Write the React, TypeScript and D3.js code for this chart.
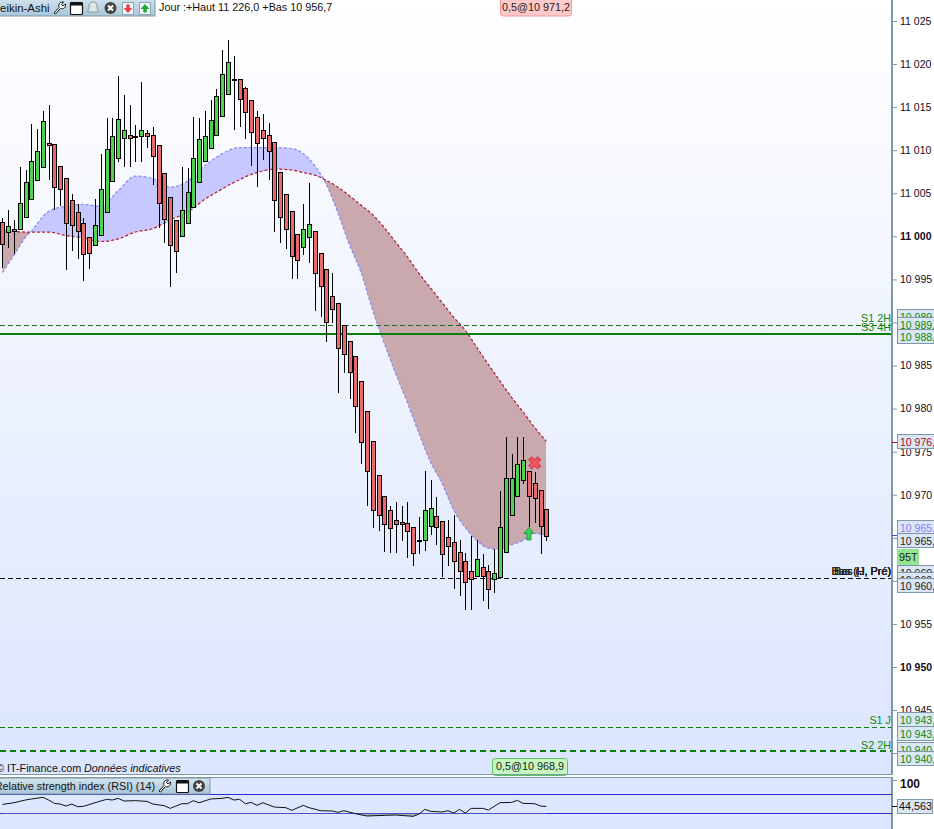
import React, { useEffect, useRef } from 'react';
import * as d3 from 'd3';

// candle values, index = bar number
const opens = [11001.7,11000.5,11000.8,11000.8,11002.3,11004.3,11006.5,11008.1,11010.8,11010.7,11008.2,11006.8,11004.2,11002.8,11001.6,10999.9,10999.0,11000.1,11002.8,11006.4,11009.1,11011.4,11011.8,11011.6,11011.6,11012.0,11011.8,11010.6,11007.3,11004.6,11001.9,11000.0,11001.6,11003.4,11006.3,11008.7,11010.2,11011.8,11014.0,11016.5,11018.3,11018.3,11017.2,11015.8,11013.9,11012.3,11011.8,11010.9,11007.5,11004.9,11002.9,11000.3,10998.8,10999.9,11000.6,10998.1,10996.2,10993.1,10992.3,10989.7,10987.9,10986.1,10983.2,10979.7,10976.2,10972.3,10969.9,10968.2,10967.1,10966.8,10966.7,10966.2,10964.7,10964.7,10966.4,10967.5,10966.9,10965.1,10964.5,10963.4,10962.3,10961.1,10960.6,10961.6,10961.1,10960.2,10960.5,10963.4,10967.6,10969.8,10971.7,10972.8,10971.4,10970.5,10968.4];
const closes = [10999.1,11001.2,11000.6,11003.9,11006.3,11008.7,11009.9,11013.4,11010.6,11005.7,11005.5,11001.6,11001.3,11000.6,10998.0,10998.1,11001.3,11005.5,11010.1,11011.6,11013.6,11012.4,11011.4,11011.5,11012.4,11011.7,11009.3,11003.9,11002.0,10999.0,10998.3,11003.1,11005.2,11009.1,11011.3,11011.6,11013.5,11016.3,11018.9,11020.2,11018.2,11015.9,11014.4,11012.1,11010.8,11011.4,11009.9,11004.2,11002.2,11000.9,10997.7,10997.3,11000.8,11001.4,10995.7,10994.2,10990.0,10991.6,10987.0,10986.3,10984.2,10980.3,10976.1,10972.7,10968.2,10967.7,10966.6,10966.1,10966.6,10966.6,10965.8,10963.2,10964.6,10968.2,10968.5,10966.3,10963.1,10964.0,10962.3,10961.2,10959.9,10960.2,10962.5,10960.6,10959.1,10960.9,10966.3,10971.9,10971.9,10973.6,10974.0,10969.9,10969.6,10966.4,10965.2];
const highs = [11002.1,11003.1,11001.9,11008.1,11007.7,11013.0,11012.5,11014.6,11015.3,11010.7,11008.2,11006.8,11004.9,11003.8,11002.1,10999.9,11004.3,11009.6,11013.7,11013.7,11018.6,11016.4,11015.3,11012.9,11017.9,11012.4,11012.7,11010.6,11007.3,11004.6,11001.9,11008.1,11007.9,11013.8,11013.7,11014.6,11015.8,11017.1,11021.6,11022.8,11020.9,11018.3,11017.3,11015.8,11014.5,11014.2,11013.2,11010.9,11007.5,11004.9,11002.9,11000.3,11003.8,11006.2,11000.6,10998.1,10996.2,10995.8,10992.3,10989.7,10987.9,10986.1,10983.2,10979.7,10976.2,10972.3,10969.9,10968.7,10969.1,10968.7,10969.1,10966.2,10967.4,10972.8,10971.7,10969.7,10966.9,10967.1,10967.7,10964.8,10963.2,10965.2,10964.7,10963.1,10961.8,10963.7,10970.4,10976.7,10974.7,10976.7,10976.7,10972.8,10972.6,10970.5,10968.4];
const lows = [10996.3,10998.7,10998.0,11000.7,11002.2,11004.2,11006.4,11008.0,11006.5,11003.0,11003.5,10996.1,10998.3,10997.4,10994.8,10996.2,10999.0,11000.1,11002.8,11006.4,11008.6,11008.0,11008.0,11008.6,11008.6,11010.3,11006.0,11001.0,10999.2,10994.1,10995.7,10999.9,11001.4,11003.4,11006.3,11008.7,11010.1,11011.8,11014.0,11016.5,11012.4,11012.7,11011.3,11008.2,11005.7,11008.9,11006.5,11000.5,10999.2,10998.5,10995.0,10995.0,10997.8,10996.9,10991.3,10990.6,10987.7,10989.9,10981.8,10984.1,10981.1,10977.2,10973.6,10968.7,10966.1,10965.8,10963.4,10963.2,10963.2,10964.6,10962.7,10961.7,10963.1,10963.5,10965.3,10964.2,10960.5,10961.7,10959.1,10958.2,10956.6,10956.6,10960.6,10957.7,10956.7,10958.6,10960.5,10963.4,10967.6,10969.8,10971.3,10966.2,10966.7,10963.1,10964.6];

// the two shaded band lines, read at these bars
const bandBars = [0,2,4,5,8,11,14,17,20,23,26,29,32,35,38,41,44,47,50,52,54,56,58,60,62,64,66,68,70,72,74,76,78,80,82,84,86,88,90,92,94];
const bandBlue = [10995.8,10997.8,10999.9,11000.6,11002.9,11003.5,11003.7,11003.5,11005.3,11007.0,11006.7,11005.7,11006.4,11008.2,11009.6,11010.3,11010.3,11010.3,11010.2,11009.6,11008.2,11006.0,11002.7,10999.0,10995.8,10991.4,10987.6,10984.0,10980.7,10977.1,10973.8,10971.3,10968.2,10966.2,10964.7,10963.8,10963.7,10964.2,10964.7,10965.5,10965.3];
const bandRed = [11000.9,11000.6,11000.5,11000.5,11000.5,11000.1,10999.8,10999.4,10999.7,11000.5,11000.9,11001.9,11002.8,11004.3,11005.5,11006.6,11007.4,11007.8,11007.7,11007.4,11007.1,11006.5,11005.7,11004.7,11003.6,11002.5,11001.0,10999.3,10997.6,10995.7,10994.0,10992.3,10990.6,10989.1,10987.1,10985.1,10983.2,10981.3,10979.6,10977.8,10976.2];

// RSI (14)
const rsiBars = [0,2,4,5,7,8,9,10,11,12,13,14,16,18,19,20,21,23,25,26,28,29,31,32,33,34,36,38,39,40,41,42,43,44,45,47,49,50,52,53,55,57,58,59,61,63,66,68,71,72,73,74,76,77,78,79,80,81,83,84,86,88,89,90,92,93,94];
const rsiValues = [49.0,52.5,58.2,60.3,63.8,58.2,51.1,49.7,45.5,49.7,44.1,44.8,52.5,59.6,58.2,61.7,56.1,56.8,55.3,49.7,46.2,40.6,50.4,50.4,56.8,52.5,60.3,61.7,63.8,58.2,59.6,50.4,53.2,46.9,52.5,43.4,42.0,36.4,46.9,42.0,35.7,35.0,32.2,35.7,29.4,24.5,25.9,26.6,23.8,28.7,38.5,34.3,32.9,35.7,30.8,38.5,30.8,40.6,40.6,37.1,52.5,53.2,57.5,51.1,50.4,45.5,44.6];

const priceTicks = [11025,11020,11015,11010,11005,11000,10995,10990,10985,10980,10975,10970,10965,10960,10955,10950,10945,10940];
const boldTicks = [11000, 10950];

// horizontal levels
const levelLabels = ['S1 2H', 'S3 4H', 'S1 J', 'S2 2H'];
const levelPrices = [10989.65, 10988.7, 10943.0, 10940.2];
const lowPrevPrice = 10960.3;
const lowPrevLabels = ['Bas (J, Pré)', 'Bas (H, Pré)', 'Bas (J, Pré)', 'Bas (H, Pré)'];

// axis tags, painted in this order
const tagTexts = ['10 989,9','10 989,7','10 988,7','10 976,2','10 965,3','10 965,2','10 960,9','10 960,3','10 960,1','10 943,8','10 943,0','10 940,4','10 940,2'];
const tagPrices = [10990.6,10989.7,10988.3,10976.1,10966.1,10964.6,10960.9,10960.1,10959.4,10943.8,10942.2,10940.4,10939.3];
const tagColors = ['#0a8a0a','#0a8a0a','#0a8a0a','#b01020','#8a7cff','#222','#222','#222','#222','#0a8a0a','#0a8a0a','#0a8a0a','#0a8a0a'];

const fmtPrice = d3.formatLocale({ decimal: ',', thousands: ' ', grouping: [3], currency: ['', ''] }).format(',d');
const FONT = '"Liberation Sans", Arial, sans-serif';
const FS = 10.8;
const AXIS_FS = 10.5;

const App = () => {
  const svgRef = useRef<SVGSVGElement | null>(null);

  useEffect(() => {
    const width = 934, height = 829, axisX = 892;
    const svg = d3.select(svgRef.current);
    svg.selectAll('*').remove();
    d3.select(document.body).style('margin', '0').style('overflow', 'hidden');

    const x = d3.scaleLinear().domain([0, 94]).range([2.4, 546.3]);
    const y = d3.scaleLinear().domain([10950, 11025]).range([667, 21]);
    const yRsi = d3.scaleLinear().domain([30, 70]).range([813.4, 794.4]);
    const px = (i: number) => Math.round(x(i));

    const defs = svg.append('defs');
    const grad = defs.append('linearGradient').attr('id', 'bg').attr('x1', 0).attr('x2', 0).attr('y1', 0).attr('y2', 1);
    grad.append('stop').attr('offset', '0').attr('stop-color', '#ffffff');
    grad.append('stop').attr('offset', '1').attr('stop-color', '#dbe5fe');
    const tabGrad = defs.append('linearGradient').attr('id', 'tab').attr('x1', 0).attr('x2', 0).attr('y1', 0).attr('y2', 1);
    tabGrad.append('stop').attr('offset', '0').attr('stop-color', '#d3e4ee');
    tabGrad.append('stop').attr('offset', '1').attr('stop-color', '#a9c6d8');

    svg.append('rect').attr('width', width).attr('height', height).attr('fill', '#ffffff');
    svg.append('rect').attr('width', axisX).attr('height', 775).attr('fill', 'url(#bg)');
    svg.append('rect').attr('y', 778).attr('width', axisX).attr('height', 51).attr('fill', '#dde7ff');

    // band
    const idx = d3.range(bandBars.length);
    const redLine = d3.line<number>().x(i => x(bandBars[i])).y(i => y(bandRed[i])).curve(d3.curveMonotoneX);
    const blueLine = d3.line<number>().x(i => x(bandBars[i])).y(i => y(bandBlue[i])).curve(d3.curveMonotoneX);
    const between = d3.area<number>().x(i => x(bandBars[i])).y0(i => y(bandRed[i])).y1(i => y(bandBlue[i])).curve(d3.curveMonotoneX);
    const aboveRed = d3.area<number>().x(i => x(bandBars[i])).y0(0).y1(i => y(bandRed[i])).curve(d3.curveMonotoneX);
    const belowRed = d3.area<number>().x(i => x(bandBars[i])).y0(775).y1(i => y(bandRed[i])).curve(d3.curveMonotoneX);
    defs.append('clipPath').attr('id', 'aboveRed').append('path').attr('d', aboveRed(idx));
    defs.append('clipPath').attr('id', 'belowRed').append('path').attr('d', belowRed(idx));

    const band = svg.append('g');
    band.append('path').attr('d', between(idx)).attr('fill', '#c6c8ff').attr('clip-path', 'url(#aboveRed)');
    band.append('path').attr('d', between(idx)).attr('fill', '#c9a9ae').attr('clip-path', 'url(#belowRed)');
    band.append('path').attr('d', blueLine(idx)).attr('fill', 'none').attr('stroke', '#8488f4').attr('stroke-width', 1.2).attr('stroke-dasharray', '3,2');
    band.append('path').attr('d', redLine(idx)).attr('fill', 'none').attr('stroke', '#b01c2c').attr('stroke-width', 1.2).attr('stroke-dasharray', '3,2');

    // levels
    const levels = svg.append('g').attr('shape-rendering', 'crispEdges');
    const levelLine = (p: number, color: string, w: number, dash: string | null) => {
      const ly = w === 2 ? Math.round(y(p)) : Math.floor(y(p)) + 0.5;
      levels.append('line').attr('x1', 0).attr('x2', axisX).attr('y1', ly).attr('y2', ly)
        .attr('stroke', color).attr('stroke-width', w).attr('stroke-dasharray', dash);
    };
    levelLine(levelPrices[0], '#1a701a', 1, '5,3');
    levelLine(levelPrices[1], '#0a800a', 2, null);
    levelLine(levelPrices[2], '#0a800a', 1, '5,3');
    levelLine(levelPrices[3], '#0a800a', 2, '6,4');
    levelLine(lowPrevPrice, '#111', 1, '5,3');

    // candles
    const candles = svg.append('g').attr('shape-rendering', 'crispEdges');
    opens.forEach((o, i) => {
      const c = closes[i];
      const up = c >= o;
      const cx = px(i);
      candles.append('line').attr('x1', cx + 0.5).attr('x2', cx + 0.5).attr('y1', y(highs[i])).attr('y2', y(lows[i]))
        .attr('stroke', '#000').attr('stroke-width', 1);
      const top = Math.round(y(Math.max(o, c)));
      const bottom = Math.round(y(Math.min(o, c)));
      if (bottom - top <= 1) {
        candles.append('rect').attr('x', cx - 2).attr('y', top).attr('width', 5).attr('height', 2).attr('fill', '#000');
      } else {
        candles.append('rect').attr('x', cx - 1.5).attr('y', top + 0.5).attr('width', 4).attr('height', bottom - top)
          .attr('fill', up ? '#4fd24f' : '#e96a6a').attr('stroke', '#000').attr('stroke-width', 1);
      }
    });

    // signals
    const sx = x(92), sy = y(10973.7);
    svg.append('path').attr('transform', `translate(${sx},${sy}) rotate(45)`)
      .attr('d', d3.symbol(d3.symbolCross, 90)())
      .attr('fill', '#ef5562').attr('stroke', '#d43c4c').attr('stroke-width', 1);
    const ax = x(91), ay = y(10966.2);
    svg.append('path').attr('transform', `translate(${ax},${ay})`)
      .attr('d', 'M0,0 L5,6 L2,6 L2,12.5 L-2,12.5 L-2,6 L-5,6 Z')
      .attr('fill', '#3fce57').attr('stroke', '#1f9a3a').attr('stroke-width', 1);

    // level labels
    const text = (parent: any, tx: number, ty: number, s: string, color = '#111', size = FS, anchor = 'start', weight = 'normal', italic = false) =>
      parent.append('text').attr('x', tx).attr('y', ty).attr('dy', '0.36em').attr('text-anchor', anchor)
        .attr('font-family', FONT).attr('font-size', size).attr('font-weight', weight)
        .attr('font-style', italic ? 'italic' : 'normal').attr('fill', color).text(s);
    text(svg, 891, 318.5, levelLabels[0], '#0a8a0a', FS, 'end');
    text(svg, 891, 327.5, levelLabels[1], '#0a8a0a', FS, 'end');
    text(svg, 891, 720, levelLabels[2], '#0a8a0a', FS, 'end');
    text(svg, 891, 745.5, levelLabels[3], '#0a8a0a', FS, 'end');
    lowPrevLabels.forEach(s => text(svg, 891, 571, s, '#222', FS, 'end'));

    // price axis
    const axisG = svg.append('g').attr('transform', `translate(${axisX},0)`);
    axisG.call(d3.axisRight(y).tickValues(priceTicks).tickSize(5).tickPadding(3).tickFormat(d => fmtPrice(d as number)));
    axisG.select('.domain').remove();
    axisG.selectAll('line').attr('stroke', '#7f97a6');
    axisG.selectAll('text')
      .attr('font-family', FONT).attr('font-size', AXIS_FS).attr('fill', '#140a1e')
      .attr('font-weight', d => (boldTicks.includes(d as number) ? 'bold' : 'normal'));
    svg.append('line').attr('x1', axisX).attr('x2', axisX).attr('y1', 0).attr('y2', 775)
      .attr('stroke', '#7f97a6').attr('stroke-width', 2).attr('shape-rendering', 'crispEdges');

    // price tags
    tagTexts.forEach((s, i) => {
      const ty = Math.round(y(tagPrices[i]));
      svg.append('rect').attr('x', 897.5).attr('y', ty - 7.5).attr('width', 50).attr('height', 14)
        .attr('fill', '#dbe6f5').attr('stroke', '#7f97a6').attr('shape-rendering', 'crispEdges');
      text(svg, 900, ty, s, tagColors[i], AXIS_FS);
    });
    svg.append('rect').attr('x', 897).attr('y', 549).attr('width', 22).attr('height', 16).attr('fill', '#93e593');
    text(svg, 899, 557, '95T', '#222');
    svg.append('line').attr('x1', axisX).attr('x2', 897).attr('y1', 442.5).attr('y2', 442.5).attr('stroke', '#b01020');
    svg.append('line').attr('x1', axisX).attr('x2', 897).attr('y1', 535.5).attr('y2', 535.5).attr('stroke', '#4444cc');

    // order tags
    svg.append('rect').attr('x', 500.5).attr('y', -3).attr('width', 71).attr('height', 19).attr('rx', 3)
      .attr('fill', '#ffc9c9').attr('stroke', '#f09a9a');
    text(svg, 536, 7.5, '0,5@10 971,2', '#222', FS, 'middle');
    svg.append('rect').attr('x', 492.5).attr('y', 758.5).attr('width', 75).attr('height', 17).attr('rx', 3)
      .attr('fill', '#c5f7bf').attr('stroke', '#5cc45c');
    text(svg, 530, 766.5, '0,5@10 968,9', '#222', FS, 'middle');

    // header tab
    svg.append('rect').attr('x', -2).attr('y', -2).attr('width', 157).attr('height', 18).attr('fill', 'url(#tab)').attr('stroke', '#7f97a6');
    text(svg, 49.5, 7.5, 'Heikin-Ashi', '#111', 11.4, 'end');
    text(svg, 159, 7.5, 'Jour :+Haut 11 226,0 +Bas 10 956,7', '#111');

    const wrench = (g: any, wx: number, wy: number) => {
      g.append('path').attr('transform', `translate(${wx},${wy})`)
        .attr('d', 'M1,12 L6,6.5 C5,3 7,0.5 10.5,1 L8.5,3.5 L10,5 L12.5,3 C13,6.5 10.5,8.5 7.5,7.5 L2.5,13 Z')
        .attr('fill', '#fff').attr('stroke', '#111').attr('stroke-width', 1);
    };
    const windowIcon = (g: any, wx: number, wy: number) => {
      g.append('rect').attr('x', wx + 0.5).attr('y', wy + 0.5).attr('width', 12).attr('height', 12).attr('rx', 1).attr('fill', '#fff').attr('stroke', '#111').attr('stroke-width', 1.2);
      g.append('rect').attr('x', wx + 0.5).attr('y', wy + 0.5).attr('width', 12).attr('height', 3).attr('fill', '#111');
    };
    const closeIcon = (g: any, wx: number, wy: number) => {
      g.append('circle').attr('cx', wx).attr('cy', wy).attr('r', 6).attr('fill', '#444');
      g.append('path').attr('d', `M${wx - 2.5},${wy - 2.5} L${wx + 2.5},${wy + 2.5} M${wx + 2.5},${wy - 2.5} L${wx - 2.5},${wy + 2.5}`)
        .attr('stroke', '#fff').attr('stroke-width', 2);
    };
    const pageArrow = (g: any, wx: number, wy: number, color: string, down: boolean) => {
      g.append('rect').attr('x', wx + 0.5).attr('y', wy + 0.5).attr('width', 11).attr('height', 12).attr('fill', '#eef4fa').attr('stroke', '#8aa');
      g.append('path').attr('transform', `translate(${wx + 6},${wy + 6.5}) scale(1,${down ? -1 : 1})`)
        .attr('d', 'M0,-4.5 L4.5,0.5 L1.7,0.5 L1.7,4 L-1.7,4 L-1.7,0.5 L-4.5,0.5 Z').attr('fill', color);
    };
    const hdr = svg.append('g');
    wrench(hdr, 53, 1);
    windowIcon(hdr, 70, 2);
    hdr.append('path').attr('d', 'M87,12 C89,10 89,8 89,6 C89,3 91,2 93,2 C95,2 97,3 97,6 C97,8 97,10 99,12 Z')
      .attr('fill', '#dfe6e6').attr('stroke', '#8a9a9a');
    closeIcon(hdr, 110.5, 8);
    pageArrow(hdr, 122, 2, '#e8404a', true);
    pageArrow(hdr, 139, 2, '#22a83a', false);

    // footer
    text(svg, -4, 768, '© IT-Finance.com', '#111');
    text(svg, 84, 768, 'Données indicatives', '#111', FS, 'start', 'normal', true);

    // panel borders
    svg.append('line').attr('x1', 0).attr('x2', axisX + 0.5).attr('y1', 774.5).attr('y2', 774.5).attr('stroke', '#7f97a6');
    svg.append('line').attr('x1', 0).attr('x2', axisX + 0.5).attr('y1', 777.5).attr('y2', 777.5).attr('stroke', '#7f97a6');
    svg.append('line').attr('x1', axisX).attr('x2', axisX).attr('y1', 777).attr('y2', 829)
      .attr('stroke', '#7f97a6').attr('stroke-width', 2).attr('shape-rendering', 'crispEdges');

    // RSI panel
    [70, 30].forEach(v => {
      svg.append('line').attr('x1', 0).attr('x2', axisX).attr('y1', Math.round(yRsi(v)) + 0.5).attr('y2', Math.round(yRsi(v)) + 0.5)
        .attr('stroke', '#2c2cd0').attr('stroke-width', 1);
    });
    const rIdx = d3.range(rsiBars.length);
    defs.append('clipPath').attr('id', 'rsiLow').append('rect').attr('x', 0).attr('y', yRsi(30)).attr('width', axisX).attr('height', 20);
    svg.append('path').attr('clip-path', 'url(#rsiLow)')
      .attr('d', d3.area<number>().x(i => x(rsiBars[i])).y0(yRsi(30)).y1(i => yRsi(rsiValues[i]))(rIdx))
      .attr('fill', '#9db4c0');
    svg.append('path').attr('d', d3.line<number>().x(i => x(rsiBars[i])).y(i => yRsi(rsiValues[i]))(rIdx))
      .attr('fill', 'none').attr('stroke', '#111').attr('stroke-width', 1);

    svg.append('rect').attr('x', -2).attr('y', 778).attr('width', 212).attr('height', 16).attr('fill', 'url(#tab)').attr('stroke', '#7f97a6');
    text(svg, 155, 786, 'Relative strength index (RSI) (14)', '#111', FS, 'end');
    const rsiHdr = svg.append('g');
    wrench(rsiHdr, 158, 779);
    windowIcon(rsiHdr, 176, 780);
    closeIcon(rsiHdr, 199, 786);

    svg.append('line').attr('x1', axisX).attr('x2', 897).attr('y1', 780.5).attr('y2', 780.5).attr('stroke', '#7f97a6');
    text(svg, 900, 784, '100', '#111', 12, 'start', 'bold');
    svg.append('line').attr('x1', axisX).attr('x2', 897).attr('y1', 806.5).attr('y2', 806.5).attr('stroke', '#111');
    svg.append('rect').attr('x', 897.5).attr('y', 799.5).attr('width', 35).attr('height', 14).attr('fill', '#dbe6f5').attr('stroke', '#7f97a6');
    text(svg, 899, 806.5, '44,563', '#111');
  }, []);

  return <svg ref={svgRef} width={934} height={829} style={{ display: 'block' }} />;
};

export default App;
